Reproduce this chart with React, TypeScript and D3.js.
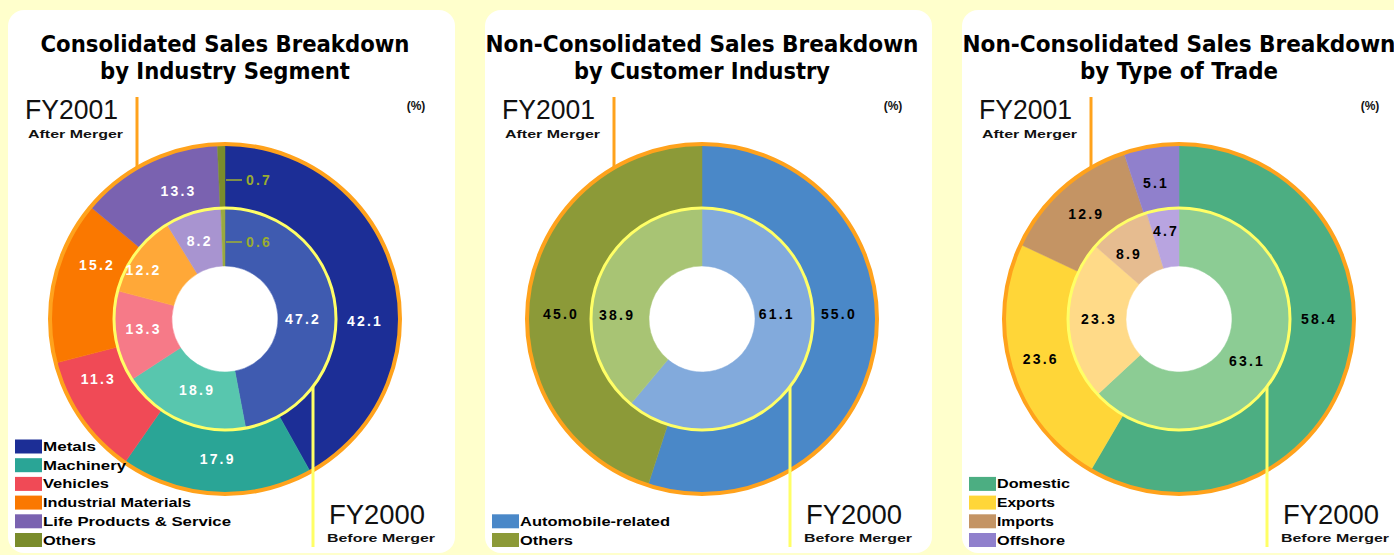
import React from "react";
import * as d3 from "d3";

// ---------- data ----------
const segCategories = ["Metals", "Machinery", "Vehicles", "Industrial Materials", "Life Products & Service", "Others"];
const segFY2001 = [42.1, 17.9, 11.3, 15.2, 13.3, 0.7];
const segFY2000 = [47.2, 18.9, 13.3, 12.2, 8.2, 0.6];

const custCategories = ["Automobile-related", "Others"];
const custFY2001 = [55.0, 45.0];
const custFY2000 = [61.1, 38.9];

const tradeCategories = ["Domestic", "Exports", "Imports", "Offshore"];
const tradeFY2001 = [58.4, 23.6, 12.9, 5.1];
const tradeFY2000 = [63.1, 23.3, 8.9, 4.7];

const titles = [
  ["Consolidated Sales Breakdown", "by Industry Segment"],
  ["Non-Consolidated Sales Breakdown", "by Customer Industry"],
  ["Non-Consolidated Sales Breakdown", "by Type of Trade"],
];

// ---------- styling / layout ----------
const W = 1394;
const H = 555;
const CY = 319;
const R_HOLE = 53;
const R_MID = 111;
const R_OUT = 174;

type LabelPos = [number, number] | null; // [angleDeg, radius] ; null => leader label

interface PanelCfg {
  px: number;
  categories: string[];
  outer: number[];
  inner: number[];
  outerColors: string[];
  innerColors: string[];
  labelColor: string;
  outerLabels: LabelPos[];
  innerLabels: LabelPos[];
  titleWidths: [number, number];
  legendWidths: number[];
}

const panels: PanelCfg[] = [
  {
    px: 8,
    categories: segCategories,
    outer: segFY2001,
    inner: segFY2000,
    outerColors: ["#1c2e96", "#2aa596", "#f04a56", "#fa7800", "#7a62b0", "#7a8c2c"],
    innerColors: ["#3f5bb0", "#58c6ae", "#f67a88", "#ffa838", "#a894d0", "#9aaa40"],
    labelColor: "#ffffff",
    outerLabels: [[90.8, 140], [183, 140], [244.7, 140], [293, 139], [340, 136], null],
    innerLabels: [[90, 78], [201.5, 76], [263, 82], [301, 95], [342, 82], null],
    titleWidths: [369, 250],
    legendWidths: [53, 83, 66, 148, 188, 53],
  },
  {
    px: 485,
    categories: custCategories,
    outer: custFY2001,
    inner: custFY2000,
    outerColors: ["#4a88c8", "#8c9a38"],
    innerColors: ["#82aadc", "#a8c474"],
    labelColor: "#000000",
    outerLabels: [[88, 137], [272, 141]],
    innerLabels: [[86, 75], [273, 85]],
    titleWidths: [433, 256],
    legendWidths: [150, 53],
  },
  {
    px: 962,
    categories: tradeCategories,
    outer: tradeFY2001,
    inner: tradeFY2000,
    outerColors: ["#4cae82", "#ffd638", "#c49464", "#9080cc"],
    innerColors: ["#8ccc94", "#ffda88", "#e6bc90", "#b8a4e0"],
    labelColor: "#000000",
    outerLabels: [[90, 140], [253.8, 144], [318.5, 140], [350.4, 138]],
    innerLabels: [[121.7, 80], [270, 80], [322.4, 82], [351.6, 89]],
    titleWidths: [433, 198],
    legendWidths: [73, 58, 57, 68],
  },
];

const fmt = d3.format(".1f");
const pie = d3.pie<number>().sort(null).value((d) => d);
const TITLE_FONT = "'Liberation Sans Narrow', 'DejaVu Sans Condensed', 'Liberation Sans', Arial, sans-serif";
const FONT = "'Liberation Sans', Arial, sans-serif";

function polar(cx: number, deg: number, r: number): [number, number] {
  const a = (deg * Math.PI) / 180;
  return [cx + r * Math.sin(a), CY - r * Math.cos(a)];
}

function Ring({ cx, values, colors, r0, r1 }: { cx: number; values: number[]; colors: string[]; r0: number; r1: number }) {
  const arc = d3.arc<d3.PieArcDatum<number>>().innerRadius(r0).outerRadius(r1);
  return (
    <g transform={`translate(${cx},${CY})`}>
      {pie(values).map((d, i) => (
        <path key={i} d={arc(d) || ""} fill={colors[i]} stroke={colors[i]} strokeWidth={0.5} />
      ))}
    </g>
  );
}

function Labels({ cx, values, layout, color, rLeader }: { cx: number; values: number[]; layout: LabelPos[]; color: string; rLeader: number }) {
  return (
    <g>
      {values.map((v, i) => {
        const pos = layout[i];
        if (pos === null || pos === undefined) {
          const y = CY - rLeader;
          return (
            <g key={i}>
              <line x1={cx + 1} x2={cx + 17} y1={y} y2={y} stroke="#a0b030" strokeWidth={1.5} />
              <text x={cx + 21} y={y} dominantBaseline="central" fontFamily={FONT} fontSize={14} fontWeight="bold" letterSpacing={2.2} fill="#9aac30">
                {fmt(v)}
              </text>
            </g>
          );
        }
        const [x, y] = polar(cx, pos[0], pos[1]);
        return (
          <text key={i} x={x} y={y} textAnchor="middle" dominantBaseline="central" fontFamily={FONT} fontSize={14} fontWeight="bold" letterSpacing={2.2} fill={color}>
            {fmt(v)}
          </text>
        );
      })}
    </g>
  );
}

function Panel({ cfg, idx }: { cfg: PanelCfg; idx: number }) {
  const cx = cfg.px + 217;
  const lx = cx - 88; // FY2001 leader x
  const rx = cx + 88; // FY2000 leader x
  const lyEnd = CY - Math.sqrt(R_OUT * R_OUT - 88 * 88);
  const ryStart = CY + Math.sqrt(R_MID * R_MID - 88 * 88);
  const n = cfg.categories.length;
  const pitch = 18.7;
  const lastTop = 533;
  return (
    <g>
      <rect x={cfg.px} y={10} width={447} height={543} rx={16} ry={16} fill="#ffffff" />
      {/* titles */}
      <text x={cx} y={52} textAnchor="middle" fontFamily={TITLE_FONT} fontWeight="bold" fontSize={23} textLength={cfg.titleWidths[0]} lengthAdjust="spacingAndGlyphs" fill="#000">
        {titles[idx][0]}
      </text>
      <text x={cx} y={79} textAnchor="middle" fontFamily={TITLE_FONT} fontWeight="bold" fontSize={23} textLength={cfg.titleWidths[1]} lengthAdjust="spacingAndGlyphs" fill="#000">
        {titles[idx][1]}
      </text>
      {/* FY2001 */}
      <text x={cx - 200} y={119} fontFamily={FONT} fontSize={27} textLength={93} lengthAdjust="spacingAndGlyphs" fill="#111">
        FY2001
      </text>
      <text x={cx - 197} y={138} fontFamily={FONT} fontWeight="bold" fontSize={11} textLength={95} lengthAdjust="spacingAndGlyphs" fill="#111">
        After Merger
      </text>
      <text x={cx + 191} y={110} textAnchor="middle" fontFamily={FONT} fontWeight="bold" fontSize={12} fill="#111">
        (%)
      </text>
      {/* rings */}
      <Ring cx={cx} values={cfg.outer} colors={cfg.outerColors} r0={R_MID} r1={R_OUT} />
      <Ring cx={cx} values={cfg.inner} colors={cfg.innerColors} r0={R_HOLE} r1={R_MID} />
      <circle cx={cx} cy={CY} r={R_OUT + 1} fill="none" stroke="#ffa21c" strokeWidth={4} />
      <circle cx={cx} cy={CY} r={R_MID} fill="none" stroke="#ffff66" strokeWidth={3} />
      {/* leader lines */}
      <line x1={lx} x2={lx} y1={97} y2={lyEnd} stroke="#ffa21c" strokeWidth={3} />
      <line x1={rx} x2={rx} y1={ryStart} y2={547} stroke="#ffff66" strokeWidth={3} />
      {/* value labels */}
      <Labels cx={cx} values={cfg.outer} layout={cfg.outerLabels} color={cfg.labelColor} rLeader={139} />
      <Labels cx={cx} values={cfg.inner} layout={cfg.innerLabels} color={cfg.labelColor} rLeader={77} />
      {/* FY2000 */}
      <text x={cx + 104} y={524} fontFamily={FONT} fontSize={27} textLength={96} lengthAdjust="spacingAndGlyphs" fill="#111">
        FY2000
      </text>
      <text x={cx + 102} y={542} fontFamily={FONT} fontWeight="bold" fontSize={11} textLength={108} lengthAdjust="spacingAndGlyphs" fill="#111">
        Before Merger
      </text>
      {/* legend */}
      {cfg.categories.map((c, i) => {
        const top = lastTop - (n - 1 - i) * pitch;
        return (
          <g key={c}>
            <rect x={cx - 210} y={top} width={27} height={14} fill={cfg.outerColors[i]} />
            <text x={cx - 182} y={top + 7.5} dominantBaseline="central" fontFamily={FONT} fontWeight="bold" fontSize={12} textLength={cfg.legendWidths[i]} lengthAdjust="spacingAndGlyphs" fill="#000">
              {c}
            </text>
          </g>
        );
      })}
    </g>
  );
}

export default function App() {
  return (
    <svg width={W} height={H} style={{ position: "absolute", left: 0, top: 0 }}>
      <rect x={0} y={0} width={W} height={H} fill="#ffffcc" />
      {panels.map((p, i) => (
        <Panel key={i} cfg={p} idx={i} />
      ))}
    </svg>
  );
}
